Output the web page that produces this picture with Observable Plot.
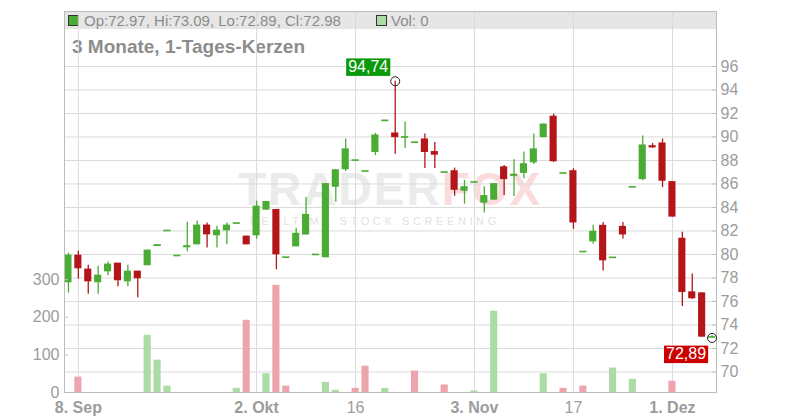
<!DOCTYPE html>
<html><head><meta charset="utf-8">
<script src="https://cdn.jsdelivr.net/npm/d3@7"></script>
<script src="https://cdn.jsdelivr.net/npm/@observablehq/plot@0.6"></script>
<style>
html,body{margin:0;padding:0;background:#fff;}
#wrap{position:relative;width:800px;height:420px;font-family:"Liberation Sans",Arial,sans-serif;overflow:hidden;background:#fff}
#chart{position:absolute;left:0;top:0;z-index:3}
#hdr{position:absolute;left:64px;top:11px;width:652px;height:18px;background:#e6e6e6;z-index:1}
.sq{position:absolute;top:15px;width:9px;height:9px;border:1px solid #333;z-index:2}
.ht{position:absolute;top:12px;line-height:18px;font-size:15px;color:#8c8c8c;white-space:nowrap;z-index:2}
#title{position:absolute;left:72px;top:37px;line-height:20px;font-size:19px;font-weight:bold;color:#8c8c8c;white-space:nowrap;z-index:2}
#wm{position:absolute;left:238px;top:171px;font-size:46px;line-height:36px;font-weight:bold;letter-spacing:2px;color:#ebebeb;white-space:nowrap;z-index:0}
#wm span{color:#fadcdc}
#wm2{position:absolute;left:250px;top:215px;font-size:11px;line-height:12px;letter-spacing:3.6px;color:#e2e2e2;white-space:nowrap;z-index:0}
</style>
</head><body>
<div id="wrap">
  <div id="wm">TRADER<span>FOX</span></div>
  <div id="wm2">REALTIME STOCK SCREENING</div>
  <div id="hdr"></div>
  <div class="sq" id="sq1" style="left:68px"></div>
  <div class="ht" id="ohlc" style="left:84px"></div>
  <div class="sq" id="sq2" style="left:376px"></div>
  <div class="ht" id="voltxt" style="left:391px"></div>
  <div id="title">3 Monate, 1-Tages-Kerzen</div>
  <div id="chart"></div>
</div>
<script>
// ---- data ----
const dates = [
 "2025-09-05","2025-09-08","2025-09-09","2025-09-10","2025-09-11","2025-09-12",
 "2025-09-15","2025-09-16","2025-09-17","2025-09-18","2025-09-19",
 "2025-09-22","2025-09-23","2025-09-24","2025-09-25","2025-09-26",
 "2025-09-29","2025-09-30","2025-10-01","2025-10-02","2025-10-03",
 "2025-10-06","2025-10-07","2025-10-08","2025-10-09","2025-10-10",
 "2025-10-13","2025-10-14","2025-10-15","2025-10-16","2025-10-17",
 "2025-10-20","2025-10-21","2025-10-22","2025-10-23","2025-10-24",
 "2025-10-27","2025-10-28","2025-10-29","2025-10-30","2025-10-31",
 "2025-11-03","2025-11-04","2025-11-05","2025-11-06","2025-11-07",
 "2025-11-10","2025-11-11","2025-11-12","2025-11-13","2025-11-14",
 "2025-11-17","2025-11-18","2025-11-19","2025-11-20","2025-11-21",
 "2025-11-24","2025-11-25","2025-11-26","2025-11-27","2025-11-28",
 "2025-12-01","2025-12-02","2025-12-03","2025-12-04","2025-12-05"
];
const opens = [
 77.59,79.94,78.75,77.59,78.52,79.26,77.67,78.58,79.04,80.68,
 82.02,79.90,80.57,80.82,82.50,81.59,82.01,82.66,81.56,81.59,
 83.77,83.83,79.76,80.65,81.66,79.99,79.72,85.72,87.21,88.02,
 87.09,88.68,91.40,90.34,89.98,89.54,89.83,88.76,87.00,87.13,
 85.38,86.16,84.37,84.62,87.46,86.65,86.90,87.80,89.94,91.77,
 86.92,87.13,80.24,81.07,82.48,79.74,82.39,85.74,86.37,89.25,
 89.49,86.20,81.38,76.82,76.73,72.97
];
const highs = [
 80.11,80.28,79.09,79.00,79.35,79.26,79.09,78.58,80.37,80.80,
 82.04,79.91,82.75,82.84,82.67,82.41,82.67,82.67,81.56,84.54,
 84.51,83.83,79.77,82.23,84.85,80.00,86.03,87.21,89.83,88.03,
 87.10,90.31,91.41,94.74,91.27,89.55,90.25,89.52,87.01,87.35,
 86.31,86.17,85.77,86.03,87.58,88.06,88.73,90.25,91.10,91.94,
 86.93,87.30,80.25,82.48,82.73,79.75,82.73,85.75,90.08,89.44,
 89.83,86.20,81.89,78.34,76.73,73.09
];
const lows = [
 76.71,77.90,76.62,76.62,78.18,77.25,77.25,76.31,79.04,80.68,
 82.02,79.90,80.23,80.82,80.54,80.54,80.82,82.66,80.82,81.30,
 83.77,78.70,79.76,80.65,81.66,79.99,79.72,84.45,87.07,88.02,
 87.09,88.42,91.40,88.54,89.01,89.54,87.32,87.32,87.00,84.96,
 84.28,86.16,83.52,84.62,85.01,84.93,86.45,87.66,89.94,87.83,
 86.92,82.14,80.24,80.87,78.59,79.74,81.32,85.74,86.28,89.04,
 85.69,83.18,75.58,76.17,72.96,72.89
];
const closes = [
 79.94,78.78,77.67,78.24,79.18,77.76,78.58,77.93,80.37,80.80,
 82.04,79.91,80.71,82.50,81.67,82.07,82.50,82.67,80.82,84.11,
 84.51,79.97,79.77,81.80,83.41,80.00,86.03,87.21,88.99,88.03,
 87.10,90.17,91.41,89.94,90.00,89.55,88.68,88.45,87.01,85.46,
 85.77,86.17,85.01,86.03,86.37,86.79,87.72,88.99,91.10,87.89,
 86.93,82.68,80.25,81.97,79.46,79.75,81.66,85.75,89.32,89.18,
 86.23,83.18,76.76,76.23,72.96,72.98
];
const volumes = [
 0,41,0,0,0,0,0,0,152,86,
 17,0,0,0,0,0,0,11,192,0,
 50,285,17,0,0,0,27,6,0,11,
 70,0,11,0,0,57,0,0,20,0,
 0,4,0,216,0,0,0,0,50,0,
 11,0,17,0,0,65,0,35,0,0,
 0,30,0,0,0,0
];
const priceTicks = [70,72,74,76,78,80,82,84,86,88,90,92,94,96];
const volTicks = [0,100,200,300];
const tickDates = ["2025-09-08","2025-10-02","2025-10-16","2025-11-03","2025-11-17","2025-12-01"];
const tickLabels = ["8. Sep","2. Okt","16","3. Nov","17","1. Dez"];
const tickBold = [true,true,false,true,false,true];

// ---- styling ----
const GREEN = "#4aac34", RED = "#b41519";
const VGREEN = "#abdca5", VRED = "#eea4ac";
const GRID = "#dadada", AXIS = "#bdbdbd", TXT = "#9c9c9c";
const yDomain = [68.25, 100.68];
const volScale = d3.scaleLinear([0, 1013], yDomain);
const W = 0.36;

const candles = dates.map((date, i) => ({
  i, date, open: opens[i], high: highs[i], low: lows[i], close: closes[i], vol: volumes[i],
  up: closes[i] >= opens[i],
  volUp: i === 0 ? true : closes[i] >= closes[i - 1]
}));
const hiIdx = d3.maxIndex(highs), loIdx = d3.minIndex(lows);
const fmtDe = v => v.toFixed(2).replace(".", ",");
const hiMark = [{i: hiIdx, v: highs[hiIdx], label: fmtDe(highs[hiIdx])}];
const loMark = [{i: loIdx, v: lows[loIdx], label: fmtDe(lows[loIdx])}];
const boxColors = ["#0a990a", "#cc0000"];
const xTicks = tickDates.map(d => dates.indexOf(d));
const fmtX = t => tickLabels[xTicks.indexOf(t)];
const boldTicks = xTicks.filter((t, k) => tickBold[k]);
const normTicks = xTicks.filter((t, k) => !tickBold[k]);
const volTickPos = volTicks.map(v => volScale(v));

const plot = Plot.plot({
  width: 800, height: 420,
  marginLeft: 64, marginRight: 84, marginTop: 11, marginBottom: 28,
  style: {background: "transparent", fontFamily: "'Liberation Sans', Arial, sans-serif", color: TXT, overflow: "visible"},
  x: {type: "linear", domain: [-0.4, 65.45], axis: null},
  y: {domain: yDomain, axis: null, label: null},
  color: {type: "identity"},
  marks: [
    Plot.ruleY(priceTicks, {stroke: GRID, strokeWidth: 1}),
    Plot.ruleX(xTicks, {stroke: GRID, strokeWidth: 1}),
    Plot.rect(candles.filter(d => d.vol > 0), {
      x1: d => d.i - W, x2: d => d.i + W,
      y1: () => volScale(0), y2: d => volScale(d.vol),
      fill: d => d.volUp ? VGREEN : VRED
    }),
    Plot.ruleX(candles, {x: "i", y1: "low", y2: "high", stroke: d => d.up ? GREEN : RED, strokeWidth: 1.3}),
    Plot.rect(candles, {
      x1: d => d.i - W, x2: d => d.i + W, y1: "open", y2: "close",
      fill: d => d.up ? GREEN : RED
    }),
    Plot.ruleY(candles.filter(d => Math.abs(d.close - d.open) < 0.2), {
      y: "close", x1: d => d.i - W, x2: d => d.i + W,
      stroke: d => d.up ? GREEN : RED, strokeWidth: 1.6
    }),
    Plot.frame({stroke: AXIS}),
    // right price axis
    Plot.axisY(priceTicks, {anchor: "right", tickSize: 0, tickPadding: 4, fontSize: 16, fill: TXT, label: null}),
    Plot.axisY(priceTicks, {anchor: "right", tickSize: 5, dx: -5, tickFormat: () => "", stroke: AXIS, label: null}),
    // left volume axis
    Plot.axisY(volTickPos, {anchor: "left", tickSize: 0, tickPadding: 5, fontSize: 16, fill: TXT, label: null,
      tickFormat: d => String(Math.round(volScale.invert(d)))}),
    Plot.axisY(volTickPos, {anchor: "left", tickSize: 4, dx: 4, tickFormat: () => "", stroke: AXIS, label: null}),
    // x axis
    Plot.axisX(boldTicks, {anchor: "bottom", tickSize: 0, tickPadding: 9, fontSize: 16, fontWeight: "bold", fill: TXT, tickFormat: fmtX, label: null}),
    Plot.axisX(normTicks, {anchor: "bottom", tickSize: 0, tickPadding: 9, fontSize: 16, fill: TXT, tickFormat: fmtX, label: null}),
    // extremes
    Plot.dot([...hiMark, ...loMark], {x: "i", y: "v", r: 4.5, stroke: "#222", strokeWidth: 1, fill: "none"}),
    Plot.text(hiMark, {x: "i", y: "v", text: "label", textAnchor: "end", lineAnchor: "middle", dx: -7, dy: -14.5, fill: "white", fontSize: 16}),
    Plot.text(loMark, {x: "i", y: "v", text: "label", textAnchor: "end", lineAnchor: "middle", dx: -6, dy: 16, fill: "white", fontSize: 16})
  ]
});
document.getElementById("chart").appendChild(plot);

// colored boxes behind the extreme labels
d3.select(plot).selectAll('g[aria-label="text"]').each(function(_, k) {
  const col = boxColors[k];
  d3.select(this).selectAll("text").each(function() {
    const bb = this.getBBox();
    const r = document.createElementNS("http://www.w3.org/2000/svg", "rect");
    r.setAttribute("x", bb.x - 2); r.setAttribute("y", bb.y + 0.5);
    r.setAttribute("width", bb.width + 4); r.setAttribute("height", bb.height + 0.5);
    r.setAttribute("fill", col);
    const tr = this.getAttribute("transform");
    if (tr) r.setAttribute("transform", tr);
    this.parentNode.insertBefore(r, this);
  });
});

// header legend from last candle
const L = candles[candles.length - 1];
document.getElementById("ohlc").textContent =
  `Op:${L.open.toFixed(2)}, Hi:${L.high.toFixed(2)}, Lo:${L.low.toFixed(2)}, Cl:${L.close.toFixed(2)}`;
document.getElementById("voltxt").textContent = `Vol: ${L.vol}`;
document.getElementById("sq1").style.background = GREEN;
document.getElementById("sq2").style.background = VGREEN;
</script>
</body></html>
